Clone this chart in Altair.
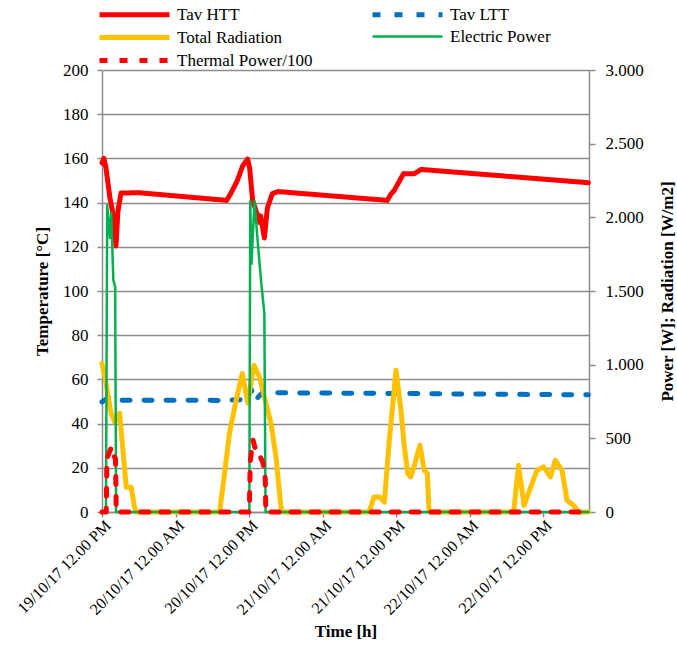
import altair as alt
import pandas as pd

# ---------------- data (hours since 19/10/17 12:00) ----------------
series_names = ["Tav HTT", "Tav LTT", "Total Radiation", "Electric Power", "Thermal Power/100"]
series_colors = ["#FF0000", "#0070C0", "#FFC000", "#00B050", "#FF0000"]
series_dash = [[1, 0], [8, 14], [1, 0], [1, 0], [8, 12]]
series_width = [5, 5, 5, 2.5, 5]

htt_h = [0, 0.3, 0.65, 1.3, 1.8, 2.28, 2.6, 3.1, 5.9, 20.35, 21.0, 21.65, 22.1, 22.96, 23.77,
         24.1, 24.6, 25.07, 25.72, 25.9, 26.5, 27.0, 27.8, 28.7, 46.57, 47.2, 47.7, 48.2, 49.2,
         50.9, 52.1, 79.4]
htt_v = [158, 160, 155.7, 142, 135, 120.4, 136, 144.3, 144.5, 141, 144, 147.5, 150, 156.6, 159.7,
         155.7, 140.7, 137, 131, 134, 124, 137.6, 144, 145, 141, 144, 145.5, 148, 153,
         153, 155, 149]

ltt_h = [0, 1.2, 3.0, 20.0, 23.8, 24.3, 25.0, 26.2, 50.0, 79.4]
ltt_v = [49.8, 52, 50.6, 50.5, 51, 56, 50.5, 54, 53.6, 53]

rad_h = [0, 0.65, 1.47, 2.07, 2.88, 3.42, 3.96, 4.77, 5.3, 5.6, 19.2, 20.0, 20.8, 21.9, 22.9,
         23.8, 24.8, 25.7, 26.5, 27.6, 28.4, 29.2, 29.5, 43.6, 44.4, 45.3, 46.1, 46.9, 48.0,
         48.8, 49.3, 49.9, 50.4, 51.0, 51.9, 52.6, 53.1, 53.4, 67.2, 68.0, 68.9, 70.0, 71.0,
         72.1, 73.2, 74.0, 75.1, 75.9, 77.0, 77.8, 79.4]
rad_v = [1010, 874, 670, 609, 670, 419, 168, 168, 32, 0, 0, 261, 532, 759, 940,
         740, 996, 917, 781, 600, 374, 34, 0, 0, 102, 102, 68, 487, 962,
         691, 465, 261, 238, 317, 453, 283, 261, 0, 0, 317, 45, 170, 283,
         306, 238, 351, 283, 79, 45, 0, 0]

ele_h = [0, 0.65, 0.85, 1.3, 1.5, 1.85, 2.15, 2.3, 24.05, 24.2, 24.4, 24.9, 25.4, 26.0, 26.5,
         26.7, 79.4]
ele_v = [0, 0, 2083, 1859, 2029, 1575, 1527, 0, 0, 2110, 1683, 2110, 1844, 1553, 1350,
         0, 0]

thr_h = [0, 0.7, 0.8, 1.2, 1.55, 1.9, 2.2, 2.33, 24.05, 24.2, 24.65, 24.95, 25.75, 26.3, 26.65,
         26.75, 79.4]
thr_v = [0, 0, 24.3, 27, 29.3, 25.7, 24, 0, 0, 23, 32.5, 29.3, 25.7, 22, 15,
         0, 0]

x_tick_hours = [0, 12, 24, 36, 48, 60, 72]
x_tick_labels = ["19/10/17 12.00 PM", "20/10/17 12.00 AM", "20/10/17 12.00 PM",
                 "21/10/17 12.00 AM", "21/10/17 12.00 PM", "22/10/17 12.00 AM",
                 "22/10/17 12.00 PM"]
left_ticks = list(range(0, 201, 20))
right_ticks = list(range(0, 3001, 500))


def frame(name, hs, vs):
    return pd.DataFrame({"series": name, "h": hs, "v": vs})


df_left = pd.concat([frame("Tav HTT", htt_h, htt_v), frame("Tav LTT", ltt_h, ltt_v)])
df_right = pd.concat([frame("Total Radiation", rad_h, rad_v), frame("Electric Power", ele_h, ele_v)])
df_thr = frame("Thermal Power/100", thr_h, thr_v)

FONT = "'Liberation Serif', 'Times New Roman', 'DejaVu Serif', serif"
GRAY = "#8c8c8c"
FS = 17

label_js = "[" + ",".join("'%s'" % s for s in x_tick_labels) + "]"
x_enc = alt.X(
    "h:Q",
    scale=alt.Scale(domain=[0, 79.5], nice=False, zero=False),
    axis=alt.Axis(values=x_tick_hours, labelExpr=label_js + "[round(datum.value / 12)]",
                  title="Time [h]", labelAngle=-45, labelAlign="right", labelBaseline="top",
                  labelOverlap=False, labelFont=FONT, labelFontSize=16,
                  grid=False, labelPadding=0, titlePadding=6, tickSize=5),
)

leg = alt.Legend(title=None, orient="none", legendX=20, legendY=-68, columns=2,
                 direction="horizontal",
                 symbolType="M-3.5,0H3.5", symbolSize=400, labelFont=FONT, labelFontSize=FS,
                 labelColor="black", labelOffset=30, columnPadding=49, rowPadding=0,
                 labelLimit=300)

color_enc = alt.Color("series:N", scale=alt.Scale(domain=series_names, range=series_colors), legend=leg)
dash_enc = alt.StrokeDash("series:N", scale=alt.Scale(domain=series_names, range=series_dash), legend=leg)
width_enc = alt.StrokeWidth("series:N", scale=alt.Scale(type="ordinal", domain=series_names, range=series_width), legend=leg)

line = dict(strokeCap="round", strokeJoin="round", clip=False)

left = alt.Chart(df_left).mark_line(**line).encode(
    x=x_enc,
    y=alt.Y("v:Q", scale=alt.Scale(domain=[0, 200], nice=False),
            axis=alt.Axis(orient="left", values=left_ticks, title="Temperature [°C]", grid=True,
                          labelFont=FONT, labelFontSize=FS,
                          tickSize=5, labelPadding=9, titlePadding=11)),
    color=color_enc, strokeDash=dash_enc, strokeWidth=width_enc,
)

right = alt.Chart(df_right).mark_line(**line).encode(
    x=x_enc,
    y=alt.Y("v:Q", scale=alt.Scale(domain=[0, 3000], nice=False),
            axis=alt.Axis(orient="right", values=right_ticks, grid=False,
                          labelExpr="replace(format(datum.value, ','), ',', '.')",
                          labelFont=FONT, labelFontSize=FS,
                          title="Power [W]; Radiation [W/m2]", titleAngle=270,
                          tickSize=6, labelPadding=10, titlePadding=33)),
    color=color_enc, strokeDash=dash_enc, strokeWidth=width_enc,
)

thermal = alt.Chart(df_thr).mark_line(**line).encode(
    x=x_enc,
    y=alt.Y("v:Q", scale=alt.Scale(domain=[0, 200], nice=False), axis=None),
    color=color_enc, strokeDash=dash_enc, strokeWidth=width_enc,
)

chart = alt.layer(left, right, thermal).resolve_scale(y="independent").properties(
    width=487, height=442,
    autosize=alt.AutoSizeParams(type="none"),
    padding={"left": 102, "top": 70, "right": 88, "bottom": 138},
).configure(font=FONT).configure_view(stroke=None).configure_axis(
    labelFont=FONT, labelFontSize=FS, labelColor="black",
    titleFont=FONT, titleFontSize=FS, titleFontWeight="bold", titleColor="black",
    domainColor=GRAY, tickColor=GRAY, gridColor=GRAY,
    domainWidth=1.5, tickWidth=1.5, gridWidth=1.5,
).configure_legend(labelFont=FONT)

chart.save("out.html", embed_options={"renderer": "svg", "actions": False})
